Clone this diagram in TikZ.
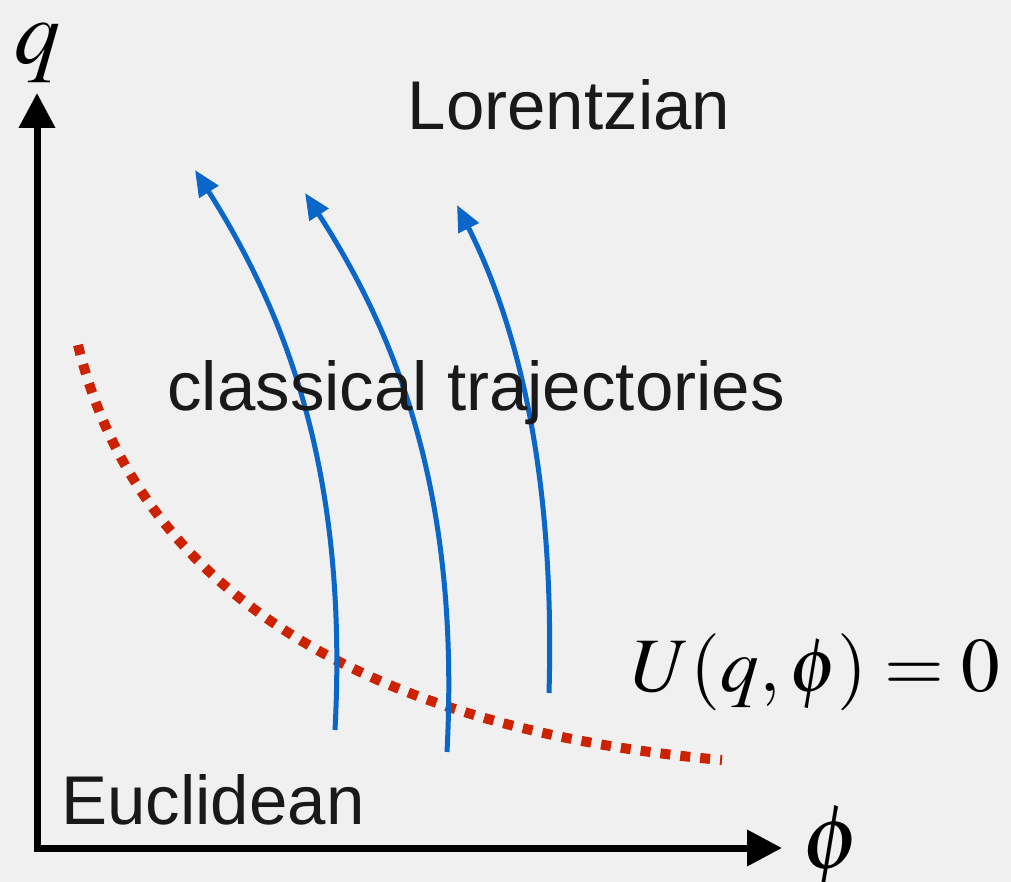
\documentclass[tikz,border=0pt]{standalone}
\usepackage{mathptmx}
\usepackage[no-math]{fontspec}
\newfontfamily\labelfont{Liberation Sans}
\usetikzlibrary{positioning,arrows.meta}
\definecolor{paper}{RGB}{240,240,240}
\definecolor{trajblue}{RGB}{10,102,200}
\definecolor{zerored}{RGB}{204,34,0}

\begin{document}
\begin{tikzpicture}[
  x=0.5pt, y=-0.5pt,
  axis/.style={-{Triangle[length=17.5pt, width=17.5pt]}, line width=3.5pt, black},
  traj/.style={-{Triangle[length=13pt, width=11pt]}, line width=2.5pt, trajblue},
  zeroline/.style={line width=5pt, zerored, dash pattern=on 5pt off 5pt},
  region/.style={font=\labelfont\fontsize{34.5}{40}\selectfont, text=black!90, inner sep=0pt},
  axlab/.style={font=\fontsize{46}{54}\selectfont, inner sep=0pt},
  formula/.style={font=\fontsize{38.5}{46}\selectfont, inner sep=0pt}
]
\fill[paper] (0,0) rectangle (1011,882);
\useasboundingbox (0,0) rectangle (1011,882);

% axes
\coordinate (origin) at (37,848);
\coordinate (qtop) at (37,93);
\coordinate (phiend) at (782,848);
\draw[axis] (origin) -- (qtop);
\draw[axis] ([xshift=-1.75pt]origin) -- (phiend);
\node[axlab] (qlab) at (37,53) {$q$};
\node[axlab, right=10pt of phiend] (philab) {$\phi$};

% U = 0 curve
\coordinate (ua) at (78,345);
\coordinate (ub) at (722,760);
\draw[zeroline] (ua) .. controls (140,600) and (380,730) .. (ub);
\node[formula] (ulab) at (816,672) {$U(q,\phi)=0$};

% classical trajectories
\coordinate (ta1) at (335,730);
\coordinate (tb1) at (195,170);
\coordinate (ta2) at (447,752);
\coordinate (tb2) at (305,193);
\coordinate (ta3) at (549,693);
\coordinate (tb3) at (457,205);
\draw[traj] (ta1) .. controls (348,480) and (290,320) .. (tb1);
\draw[traj] (ta2) .. controls (460,500) and (400,340) .. (tb2);
\draw[traj] (ta3) .. controls (555,480) and (520,330) .. (tb3);

\node[region] (lorentz) at (569,105) {Lorentzian};
\node[region] (traject) at (476,393) {classical trajectories};
\node[region] (euclid) at (213,800) {Euclidean};
\end{tikzpicture}
\end{document}
